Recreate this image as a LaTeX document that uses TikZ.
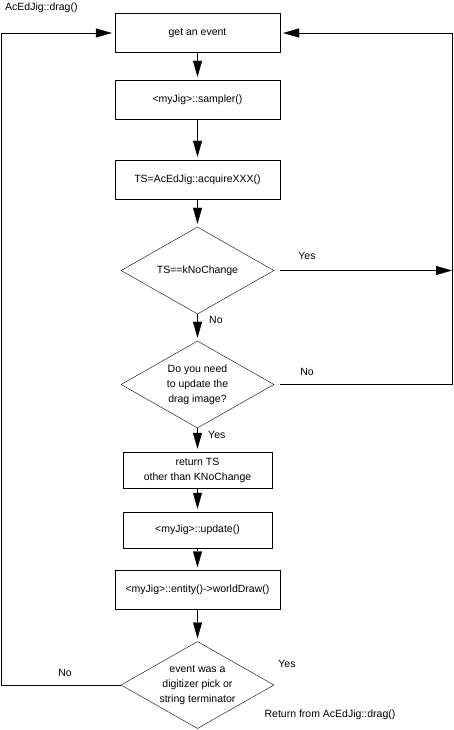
\documentclass[tikz,border=0pt]{standalone}
\usepackage{fontspec}
\setmainfont{Liberation Sans}
\usetikzlibrary{shapes.geometric}
\usetikzlibrary{arrows.meta}

\begin{document}
\begin{tikzpicture}[x=1pt, y=-1pt, font=\fontsize{10.5}{15}\selectfont,
    stepbox/.style={rectangle, draw=black, align=center, inner sep=0pt, minimum width=165pt, minimum height=39pt},
    smallbox/.style={stepbox, minimum width=149pt, minimum height=36pt},
    test/.style={diamond, draw=black, align=center, inner sep=0pt, aspect=1.76, minimum width=153pt, minimum height=87pt},
    flow/.style={draw=black, -{Triangle[length=16pt, width=9pt]}, shorten >=3pt},
    lbl/.style={inner sep=0pt}]

        % Page size
        \useasboundingbox (0, 0) rectangle (454, 730);

        % Centre line of the chart
        \def\cx{197.5}

        % Left and right return lines
        \def\xleft{1}
        \def\xright{452}

        % Title
        \node[lbl, anchor=west] (title) at (5, 8) {AcEdJig::drag()};

        % Steps and tests
        \node[stepbox] (event) at (\cx, 33) {get an event};
        \node[stepbox] (sampler) at (\cx, 99.5) {<myJig>::sampler()};
        \node[stepbox] (acquire) at (\cx, 179.5) {TS=AcEdJig::acquireXXX()};
        \node[test] (nochange) at (\cx, 270.5) {TS==kNoChange};
        \node[test] (need) at (\cx, 384.5) {Do you need\\to update the\\drag image?};
        \node[smallbox] (ret) at (\cx, 470) {return TS\\other than KNoChange};
        \node[smallbox] (update) at (\cx, 530) {<myJig>::update()};
        \node[stepbox] (world) at (\cx, 590) {<myJig>::entity()->worldDraw()};
        \node[test] (term) at (\cx, 685) {event was a\\digitizer pick or\\string terminator};

        % Main flow down the page
        \draw[flow] (event) -- (sampler);
        \draw[flow] (sampler) -- (acquire);
        \draw[flow] (acquire) -- (nochange);
        \draw[flow] (nochange) -- (need);
        \draw[flow] (need) -- (ret);
        \draw[flow] (ret) -- (update);
        \draw[flow] (update) -- (world);
        \draw[flow] (world) -- (term);

        % Right return line
        \coordinate (rtop) at (\xright, 33);
        \coordinate (rmid) at (\xright, 270.5);
        \coordinate (rbot) at (\xright, 384.5);
        \draw[flow, shorten >=0pt] ([xshift=6pt] nochange.east) -- (rmid);
        \draw[flow] ([xshift=6pt] need.east) -- (rbot) -- (rtop) -- (event.east);

        % Left return line
        \coordinate (ltop) at (\xleft, 33);
        \coordinate (lbot) at (\xleft, 685);
        \draw[flow] (term.west) -- (lbot) -- (ltop) -- (event.west);

        % Branch labels
        \node[lbl] (yes1) at (307, 256) {Yes};
        \node[lbl, anchor=west] (no1) at (209, 320) {No};
        \node[lbl] (no2) at (307, 372) {No};
        \node[lbl, anchor=west] (yes2) at (208, 435) {Yes};
        \node[lbl] (no3) at (65, 673) {No};
        \node[lbl] (yes3) at (287, 664) {Yes};
        \node[lbl] (back) at (330, 715) {Return from AcEdJig::drag()};

      \end{tikzpicture}
\end{document}
